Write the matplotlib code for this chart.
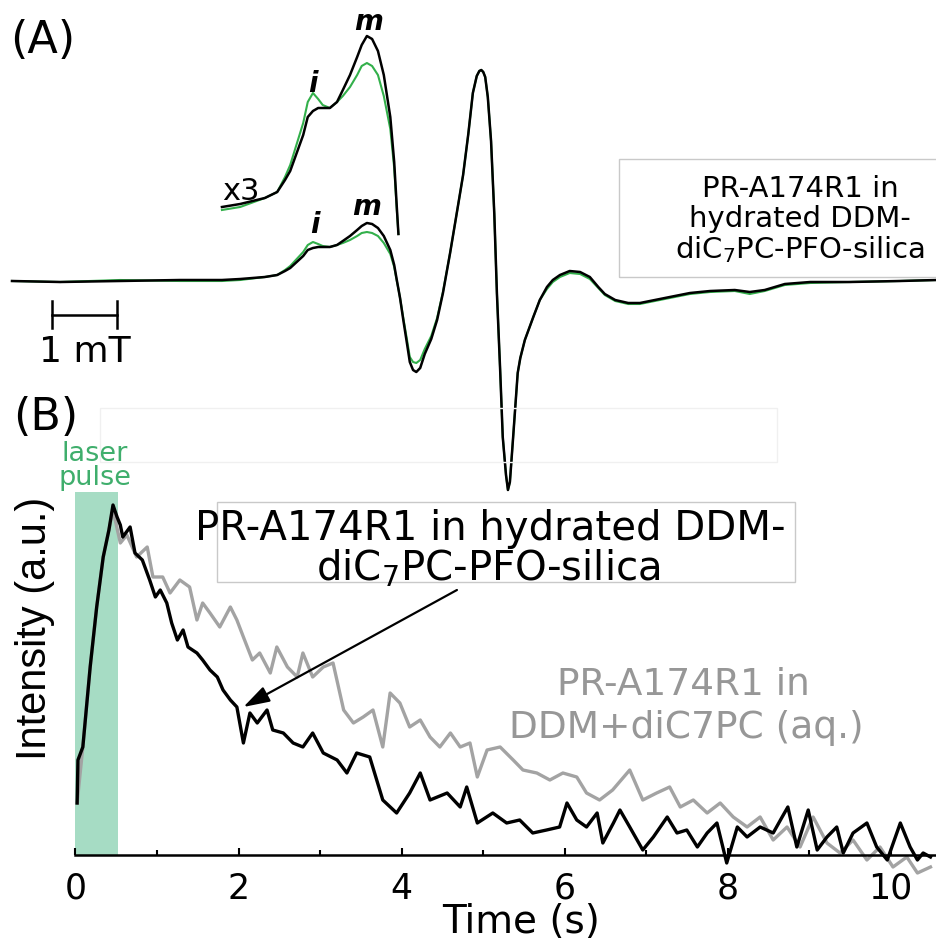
import numpy as np
import matplotlib
matplotlib.use("Agg")
import matplotlib.pyplot as plt
from matplotlib.patches import Rectangle

# ---- (A) cw EPR spectrum: field offset (mT) and derivative intensity (a.u.)
field_mT = [0.00, 0.74, 1.66, 2.58, 3.23, 3.51, 3.89, 4.08,
            4.20, 4.28, 4.38, 4.48, 4.55, 4.63, 4.71, 4.78,
            4.89, 5.00, 5.09, 5.20, 5.31, 5.38, 5.46, 5.54,
            5.63, 5.72, 5.82, 5.88, 5.92, 5.945, 5.97, 6.02, 6.08,
            6.12, 6.17, 6.22, 6.28, 6.35, 6.45, 6.54, 6.63,
            6.74, 6.83, 6.94, 7.02, 7.09, 7.15, 7.19, 7.22, 7.25, 7.28,
            7.32, 7.37, 7.42, 7.46, 7.51, 7.55, 7.60, 7.63,
            7.66, 7.71, 7.78, 7.82, 7.89, 8.02, 8.12, 8.23,
            8.32, 8.43, 8.58, 8.74, 8.89, 9.02, 9.12, 9.28,
            9.48, 9.66, 9.89, 10.12, 10.43, 10.74, 11.12, 11.35,
            11.58, 11.89, 12.28, 12.89, 13.66, 14.23]
epr_black = [0, -1, 0, 1, 1, 2, 4, 6,
             10, 13, 19, 25, 31, 33, 34, 34,
             34, 36, 40, 45, 51, 55, 58, 57,
             53, 45, 31, 16, 1, -8, -17, -39, -64,
             -81, -89, -91, -87, -73, -58, -39, -12,
             28, 63, 106, 147, 188, 205, 210, 211, 209, 204,
             184, 140, 67, -12, -89, -156, -194, -209,
             -201, -156, -92, -77, -59, -36, -19, -6,
             1, 6, 10, 9, 4, -6, -13, -19,
             -22, -22, -19, -16, -12, -10, -9, -11,
             -9, -3, -1, -1, 0, 1]
epr_green = [0, -1, 1, 0, 0, 1, 4, 6,
             11, 15, 22, 29, 36, 39, 37, 35,
             34, 36, 38, 41, 45, 48, 49, 48,
             45, 38, 27, 14, 0, -8, -17, -37, -60,
             -76, -81, -82, -79, -68, -55, -37, -11,
             28, 63, 106, 147, 188, 205, 210, 211, 209, 204,
             184, 140, 67, -12, -89, -156, -194, -209,
             -201, -156, -92, -77, -59, -36, -19, -8,
             -1, 4, 8, 7, 2, -7, -14, -20,
             -23, -23, -20, -17, -13, -11, -10, -13,
             -10, -4, -2, -1, 0, 1]
inset_range = (3.2, 5.95)   # low-field part shown magnified
inset_scale = 3
inset_offset = 71

# ---- (B) transient intensity after the laser pulse
laser_end = 0.52
t_silica = [0.02, 0.03, 0.09, 0.18, 0.26, 0.34, 0.41, 0.46,
            0.51, 0.55, 0.58, 0.67, 0.73, 0.82, 0.91, 0.98,
            1.04, 1.12, 1.18, 1.25, 1.32, 1.38, 1.49, 1.56,
            1.65, 1.74, 1.81, 1.90, 1.98, 2.06, 2.14, 2.23,
            2.35, 2.42, 2.55, 2.67, 2.79, 2.91, 3.04, 3.21,
            3.33, 3.45, 3.61, 3.77, 3.94, 4.10, 4.23, 4.35,
            4.56, 4.72, 4.80, 4.93, 5.12, 5.29, 5.45, 5.61,
            5.78, 5.94, 6.03, 6.15, 6.27, 6.40, 6.47, 6.60,
            6.68, 6.80, 6.96, 7.09, 7.26, 7.38, 7.50, 7.63,
            7.75, 7.87, 7.99, 8.12, 8.24, 8.40, 8.56, 8.67,
            8.74, 8.85, 8.99, 9.10, 9.22, 9.34, 9.42, 9.54,
            9.71, 9.83, 9.96, 10.12, 10.24, 10.33, 10.40, 10.49]
i_silica = [52, 95, 108, 188, 248, 298, 325, 350,
            338, 330, 318, 328, 302, 295, 275, 258,
            265, 252, 232, 215, 225, 208, 202, 195,
            185, 178, 165, 155, 148, 112, 142, 132,
            145, 125, 122, 112, 108, 122, 102, 95,
            82, 102, 98, 55, 42, 62, 82, 55,
            62, 48, 68, 32, 42, 32, 35, 22,
            25, 28, 52, 35, 28, 42, 12, 32,
            45, 28, 5, 18, 38, 22, 25, 8,
            22, 32, -8, 28, 18, 28, 22, 38,
            48, 8, 45, 5, 18, 28, 2, 22,
            32, 8, -5, 32, 8, -5, 2, -2]
t_aq = [0.02, 0.09, 0.18, 0.26, 0.34, 0.41, 0.46, 0.55,
        0.63, 0.75, 0.88, 0.95, 1.07, 1.16, 1.28, 1.40,
        1.49, 1.56, 1.65, 1.77, 1.90, 1.98, 2.06, 2.17,
        2.26, 2.39, 2.47, 2.60, 2.72, 2.79, 2.91, 3.04,
        3.16, 3.29, 3.41, 3.53, 3.65, 3.77, 3.86, 3.98,
        4.10, 4.23, 4.35, 4.47, 4.60, 4.72, 4.84, 4.93,
        5.05, 5.21, 5.37, 5.49, 5.66, 5.82, 5.98, 6.15,
        6.27, 6.43, 6.59, 6.80, 6.96, 7.13, 7.29, 7.42,
        7.58, 7.75, 7.91, 8.07, 8.24, 8.40, 8.56, 8.73,
        8.89, 9.05, 9.22, 9.38, 9.54, 9.71, 9.87, 10.03,
        10.20, 10.33, 10.49]
i_aq = [52, 108, 188, 248, 298, 325, 345, 312,
        320, 298, 308, 278, 278, 262, 275, 268,
        235, 252, 242, 228, 248, 235, 218, 195,
        202, 182, 208, 188, 178, 202, 178, 188,
        192, 145, 132, 138, 145, 108, 162, 152,
        128, 135, 118, 108, 122, 108, 112, 78,
        105, 108, 95, 85, 82, 75, 82, 78,
        62, 55, 65, 85, 55, 62, 68, 48,
        55, 42, 52, 38, 28, 38, 15, 28,
        8, 38, 12, 2, 15, -5, 8, -12,
        -2, -18, -12]
time_ticks = [0, 2, 4, 6, 8, 10]

GREEN = "#33b04b"
LASER = "#a6dcc4"
LASER_TEXT = "#3fae6c"
GRAY_LINE = "#a3a3a3"
GRAY_TEXT = "#979797"
BOX_EDGE = "#c9c9c9"

W, H, DPI = 937, 944, 100


def fx(px):
    return px / W


def fy(py):
    return 1 - py / H


fig = plt.figure(figsize=(W / DPI, H / DPI), dpi=DPI)

# ---------------- panel B ----------------
axB = fig.add_axes([fx(75.5), fy(855), fx(937) - fx(75.5), fy(492) - fy(855)])
axB.axvspan(0, laser_end, color=LASER, lw=0, zorder=0)
axB.plot(t_aq, i_aq, color=GRAY_LINE, lw=2.4, clip_on=False, zorder=2)
axB.plot(t_silica, i_silica, color="black", lw=2.4, clip_on=False, zorder=3)
axB.set_xlim(0, 10.57)
axB.set_ylim(0, 363)
for side in ("left", "top", "right"):
    axB.spines[side].set_visible(False)
axB.spines["bottom"].set_linewidth(1.8)
axB.set_xticks(time_ticks)
axB.set_xticks([1, 3, 5, 7, 9], minor=True)
axB.set_yticks([])
axB.tick_params(axis="x", which="major", direction="in", length=5, width=1.5,
                labelsize=25, pad=12)
axB.tick_params(axis="x", which="minor", direction="in", length=3.5, width=1.5)
axB.patch.set_alpha(0)

axB.annotate("", xy=(2.06, 148), xytext=(4.68, 265),
             arrowprops=dict(arrowstyle="-|>,head_length=0.8,head_width=0.25",
                             color="black", lw=1.6, mutation_scale=20,
                             shrinkA=0, shrinkB=0))

fig.text(fx(521), fy(933), "Time (s)", fontsize=28, ha="center", va="baseline")
fig.text(fx(35), fy(628), "Intensity (a.u.)", rotation=90, ha="center",
         va="center", fontsize=30, family=["Liberation Sans", "DejaVu Sans"])

fig.text(fx(13), fy(430), "(B)", fontsize=32, ha="left", va="baseline")
fig.text(fx(95), fy(461), "laser", fontsize=19.5, color=LASER_TEXT, ha="center", va="baseline")
fig.text(fx(95), fy(485), "pulse", fontsize=19.5, color=LASER_TEXT, ha="center", va="baseline")

fig.add_artist(Rectangle((fx(100), fy(462)), fx(777) - fx(100), fy(408) - fy(462),
                         transform=fig.transFigure, fill=False, ec="#f0f0f0", lw=1))
fig.add_artist(Rectangle((fx(217), fy(582)), fx(795) - fx(217), fy(502) - fy(582),
                         transform=fig.transFigure, fill=False, ec=BOX_EDGE, lw=1))
fig.text(fx(490), fy(540), "PR-A174R1 in hydrated DDM-", fontsize=29,
         ha="center", va="baseline")
fig.text(fx(488), fy(580), "diC$_7$PC-PFO-silica", fontsize=29,
         ha="center", va="baseline")
fig.text(fx(683), fy(695), "PR-A174R1 in", fontsize=27, color=GRAY_TEXT,
         ha="center", va="baseline")
fig.text(fx(686), fy(738), "DDM+diC7PC (aq.)", fontsize=27, color=GRAY_TEXT,
         ha="center", va="baseline")

# ---------------- panel A ----------------
axA = fig.add_axes([0, 0, 1, 1])
axA.axis("off")
axA.set_xlim(-12 / 65, 925 / 65)
axA.set_ylim(-663, 281)

field = np.array(field_mT)
black = np.array(epr_black)
green = np.array(epr_green)
axA.plot(field, green, color=GREEN, lw=1.5)
axA.plot(field, black, color="black", lw=1.8)

sel = (field >= inset_range[0]) & (field <= inset_range[1])
axA.plot(field[sel], inset_offset + inset_scale * green[sel], color=GREEN, lw=1.5)
axA.plot(field[sel], inset_offset + inset_scale * black[sel], color="black", lw=1.8)

# 1 mT scale bar
bar_x0, bar_y = 0.615, -34
axA.plot([bar_x0, bar_x0 + 1], [bar_y, bar_y], color="black", lw=1.8)
axA.plot([bar_x0, bar_x0], [bar_y + 14, bar_y - 13], color="black", lw=1.8)
axA.plot([bar_x0 + 1, bar_x0 + 1], [bar_y + 14, bar_y - 13], color="black", lw=1.8)
axA.text(bar_x0 + 0.5, -81, "1 mT", fontsize=26, ha="center", va="baseline")

lbl = dict(fontsize=20, fontweight="bold", fontstyle="italic", ha="center", va="baseline")
axA.text(4.63, 189, "i", **lbl)
axA.text(5.48, 251, "m", **lbl)
axA.text(4.66, 48, "i", **lbl)
axA.text(5.46, 66, "m", **lbl)

fig.text(fx(10), fy(53), "(A)", fontsize=32, ha="left", va="baseline")
fig.text(fx(222), fy(200), "x3", fontsize=22, ha="left", va="baseline")

fig.add_artist(Rectangle((fx(619), fy(277)), fx(940) - fx(619), fy(159) - fy(277),
                         transform=fig.transFigure, fill=False, ec=BOX_EDGE, lw=1))
for text, base in (("PR-A174R1 in", 197), ("hydrated DDM-", 227),
                   ("diC$_7$PC-PFO-silica", 258)):
    fig.text(fx(800), fy(base), text, fontsize=21, ha="center", va="baseline")

fig.savefig("out.png", dpi=DPI)
